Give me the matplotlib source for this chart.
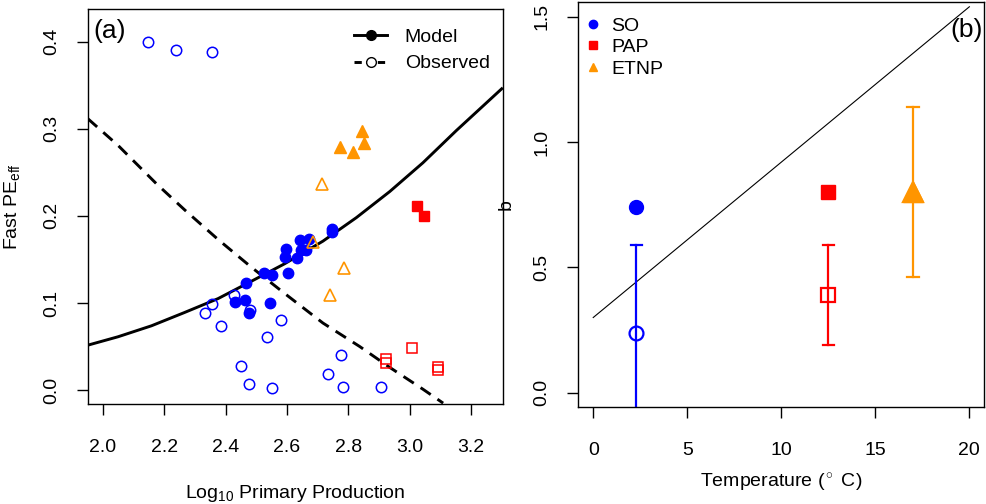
import matplotlib
matplotlib.use('Agg')
import matplotlib.pyplot as plt
from matplotlib.lines import Line2D

plt.rcParams['font.family'] = ['Liberation Sans', 'DejaVu Sans']
plt.rcParams['mathtext.fontset'] = 'custom'
plt.rcParams['mathtext.rm'] = 'Liberation Sans'
plt.rcParams['mathtext.it'] = 'Liberation Sans'

BLUE = '#0000FF'
RED = '#FF0000'
ORANGE = '#FF9500'

# パネル(a) のデータ
so_obs_x = [2.147, 2.237, 2.354, 2.334, 2.354, 2.385, 2.426, 2.480, 2.451,
            2.477, 2.552, 2.534, 2.579, 2.732, 2.777, 2.784, 2.905]
so_obs_y = [0.400, 0.390, 0.388, 0.089, 0.099, 0.074, 0.109, 0.092, 0.028,
            0.007, 0.002, 0.061, 0.081, 0.019, 0.040, 0.004, 0.003]
so_mod_x = [2.466, 2.432, 2.463, 2.476, 2.543, 2.524, 2.552, 2.602, 2.595,
            2.597, 2.631, 2.641, 2.645, 2.661, 2.671, 2.748, 2.748]
so_mod_y = [0.123, 0.101, 0.104, 0.088, 0.100, 0.135, 0.132, 0.134, 0.153,
            0.162, 0.152, 0.172, 0.161, 0.161, 0.174, 0.185, 0.182]
etnp_mod_x = [2.772, 2.815, 2.843, 2.851]
etnp_mod_y = [0.279, 0.273, 0.297, 0.284]
etnp_obs_x = [2.715, 2.685, 2.786, 2.741]
etnp_obs_y = [0.237, 0.170, 0.140, 0.109]
pap_mod_x = [3.024, 3.048]
pap_mod_y = [0.211, 0.200]
pap_obs_x = [3.009, 2.924, 2.924, 3.092, 3.092]
pap_obs_y = [0.048, 0.036, 0.031, 0.027, 0.023]

# モデル曲線と観測曲線
model_x = [1.951, 2.049, 2.158, 2.266, 2.375, 2.484, 2.592, 2.717, 2.826,
           2.935, 3.043, 3.152, 3.300]
model_y = [0.0516, 0.0612, 0.0738, 0.0891, 0.105, 0.125, 0.145, 0.171, 0.198,
           0.228, 0.261, 0.298, 0.346]
obs_x = [1.951, 2.049, 2.174, 2.266, 2.375, 2.484, 2.592, 2.717, 2.837,
         2.935, 3.043, 3.109]
obs_y = [0.3115, 0.281, 0.237, 0.207, 0.173, 0.141, 0.111, 0.077, 0.050,
         0.026, 0.001, -0.015]

# パネル(b) のデータ
regions = ['SO', 'PAP', 'ETNP']
temp = [2.3, 12.5, 17.0]
b_model = [0.74, 0.80, 0.80]
b_obs = [0.24, 0.39, 0.80]
b_lo = [-0.2, 0.19, 0.46]
b_hi = [0.59, 0.59, 1.14]
line_t = [0, 20]
line_b = [0.30, 1.54]

colors = [BLUE, RED, ORANGE]
markers = ['o', 's', '^']

fig = plt.figure(figsize=(9.86, 5.04), dpi=100)
ax1 = fig.add_axes([0.0892, 0.1984, 0.4209, 0.7836])
ax2 = fig.add_axes([0.5862, 0.1925, 0.4118, 0.8035])

FS = 14

# パネル(a)
ax1.plot(model_x, model_y, color='black', lw=2.1, zorder=2)
ax1.plot(obs_x, obs_y, color='black', lw=2.1, linestyle=(0, (4.2, 2.8)), zorder=2)

ax1.plot(so_obs_x, so_obs_y, 'o', ms=7.5, mfc='none', mec=BLUE, mew=1.1, zorder=3)
ax1.plot(so_mod_x, so_mod_y, 'o', ms=7.5, color=BLUE, zorder=3)
ax1.plot(etnp_mod_x, etnp_mod_y, '^', ms=9, color=ORANGE, zorder=3)
ax1.plot(etnp_obs_x, etnp_obs_y, '^', ms=9, mfc='none', mec=ORANGE, mew=1.2, zorder=3)
ax1.plot(pap_mod_x, pap_mod_y, 's', ms=7.5, color=RED, zorder=3)
ax1.plot(pap_obs_x, pap_obs_y, 's', ms=7, mfc='none', mec=RED, mew=1.1, zorder=3)

ax1.set_xlim(1.951, 3.304)
ax1.set_ylim(-0.016, 0.4375)
ax1.set_xticks([2.0, 2.2, 2.4, 2.6, 2.8, 3.0, 3.2])
ax1.set_yticks([0.0, 0.1, 0.2, 0.3, 0.4])
ax1.set_xticklabels(['%.1f' % v for v in ax1.get_xticks()])
ax1.set_yticklabels(['%.1f' % v for v in ax1.get_yticks()], rotation=90, va='center')
ax1.tick_params(labelsize=FS, length=8, width=1, pad=17, direction='out')
ax1.tick_params(axis='y', pad=12)
ax1.set_xlabel(r'Log$_{10}$ Primary Production', fontsize=FS, va='top')
ax1.xaxis.set_label_coords(0.5, -0.2)
ax1.set_ylabel(r'Fast PE$_{\mathrm{eff}}$', fontsize=FS)
ax1.yaxis.set_label_coords(-0.16, 0.5)
ax1.text(0.012, 0.975, '(a)', transform=ax1.transAxes, fontsize=19, ha='left', va='top')

leg_handles = [
    Line2D([], [], color='black', lw=2.1, marker='o', ms=7, mfc='black'),
    Line2D([], [], color='black', lw=2.1, linestyle=(0, (2.5, 1.5)), marker='o', ms=7,
           mfc='white', mec='black'),
]
ax1.legend(leg_handles, ['Model', 'Observed'], loc='upper right', frameon=False,
           fontsize=FS, handlelength=1.7, handletextpad=0.9, labelspacing=0.45,
           bbox_to_anchor=(1.015, 1.0), borderaxespad=0.6)

# パネル(b)
ax2.plot(line_t, line_b, color='black', lw=0.8, zorder=2)
for i in range(len(regions)):
    ax2.plot([temp[i], temp[i]], [b_lo[i], b_hi[i]], color=colors[i], lw=1.6, zorder=2)
    ax2.plot([temp[i] - 0.3, temp[i] + 0.3], [b_hi[i], b_hi[i]], color=colors[i], lw=1.6, zorder=2)
    ax2.plot([temp[i] - 0.3, temp[i] + 0.3], [b_lo[i], b_lo[i]], color=colors[i], lw=1.6, zorder=2)
    ms = 14 if markers[i] == '^' else 10
    ax2.plot(temp[i], b_model[i], markers[i], ms=ms, color=colors[i], zorder=3)
    ax2.plot(temp[i], b_obs[i], markers[i], ms=ms, mfc='none', mec=colors[i], mew=1.6, zorder=4)

ax2.set_xlim(-0.81, 20.78)
ax2.set_ylim(-0.057, 1.559)
ax2.set_xticks([0, 5, 10, 15, 20])
ax2.set_yticks([0.0, 0.5, 1.0, 1.5])
ax2.set_yticklabels(['%.1f' % v for v in ax2.get_yticks()], rotation=90, va='center')
ax2.tick_params(labelsize=FS, length=8, width=1, pad=17, direction='out')
ax2.tick_params(axis='y', pad=12)
ax2.set_xlabel(r'Temperature ($^\circ$ C)', fontsize=FS, va='top')
ax2.xaxis.set_label_coords(0.5, -0.16)
ax2.set_ylabel('b', fontsize=FS)
ax2.yaxis.set_label_coords(-0.155, 0.5)
ax2.text(0.997, 0.96, '(b)', transform=ax2.transAxes, fontsize=19, ha='right', va='top')

reg_handles = [Line2D([], [], linestyle='none', marker=markers[i], ms=6, color=colors[i])
               for i in range(len(regions))]
ax2.legend(reg_handles, regions, loc='upper left', frameon=False, fontsize=FS,
           handlelength=0.8, handletextpad=0.5, labelspacing=0.2,
           bbox_to_anchor=(-0.01, 0.992), borderaxespad=0.2)

for ax in (ax1, ax2):
    for s in ax.spines.values():
        s.set_linewidth(1.0)

fig.savefig('out.png', dpi=100)
